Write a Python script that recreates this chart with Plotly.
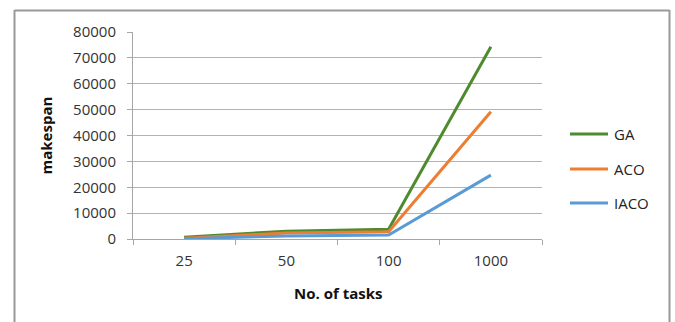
import plotly.graph_objects as go

categories = ["25", "50", "100", "1000"]
ga = [700, 3000, 3800, 74300]
aco = [300, 2300, 2800, 49200]
iaco = [100, 1200, 1500, 24700]
y_ticks = [0, 10000, 20000, 30000, 40000, 50000, 60000, 70000, 80000]
series_names = ["GA", "ACO", "IACO"]
series_colors = ["#4E8A2E", "#ED7D31", "#5B9BD5"]

W, H = 675, 322
L, R, T, B = 133, 542, 32, 239
pw, ph = R - L, B - T

def px(x):
    return (x - L) / pw

def py(y):
    return (B - y) / ph

font_family = "'Open Sans', Lato, sans-serif"

fig = go.Figure()
for name, vals, color in zip(series_names, [ga, aco, iaco], series_colors):
    fig.add_trace(go.Scatter(x=categories, y=vals, mode="lines", name=name,
                             line=dict(color=color, width=3)))

# manual legend (line + label) to match the original's geometry
legend_rows = [134, 169, 203]
shapes = []
annotations = []
for name, color, yy in zip(series_names, series_colors, legend_rows):
    shapes.append(dict(type="line", xref="paper", yref="paper",
                       x0=px(570), x1=px(608), y0=py(yy), y1=py(yy),
                       line=dict(color=color, width=3)))
    annotations.append(dict(text=name, x=px(612), y=py(yy), xref="paper", yref="paper",
                            xanchor="left", yanchor="middle", showarrow=False,
                            font=dict(size=15, color="#222222")))

annotations += [
    dict(text="<b>makespan</b>", x=px(45), y=0.5, xref="paper", yref="paper",
         xanchor="center", yanchor="middle",
         textangle=-90, showarrow=False, font=dict(size=15, color="#111111")),
    dict(text="<b>No. of tasks</b>", x=px(338), y=py(293), xref="paper", yref="paper",
         xanchor="center", yanchor="middle",
         showarrow=False, font=dict(size=15, color="#111111")),
]

border = dict(color="#999999", width=2)
shapes += [
    dict(type="line", xref="paper", yref="paper", x0=px(14.5), x1=px(14.5), y0=py(10), y1=py(340), line=border),
    dict(type="line", xref="paper", yref="paper", x0=px(14.5), x1=px(669.5), y0=py(10.5), y1=py(10.5), line=border),
    dict(type="line", xref="paper", yref="paper", x0=px(669.5), x1=px(669.5), y0=py(10), y1=py(340), line=border),
]

fig.update_layout(
    width=W, height=H,
    margin=dict(l=L, r=W - R, t=T, b=H - B),
    paper_bgcolor="white", plot_bgcolor="white",
    font=dict(family=font_family, size=15, color="#333333"),
    showlegend=False,
    xaxis=dict(type="category", range=[-0.5, 3.5], showgrid=False,
               showline=True, linecolor="#a6a6a6", linewidth=1,
               ticks="outside", tickson="boundaries", ticklen=5, tickcolor="#a6a6a6",
               ticklabelstandoff=8,
               tickfont=dict(size=15, color="#333333"), fixedrange=True),
    yaxis=dict(range=[0, 80000], tickvals=y_ticks, ticktext=[str(v) for v in y_ticks],
               showgrid=True, gridcolor="#b3b3b3", gridwidth=1,
               showline=True, linecolor="#a6a6a6", linewidth=1,
               ticks="outside", ticklen=5, tickcolor="#a6a6a6",
               ticklabelstandoff=8,
               tickfont=dict(size=15, color="#333333"), zeroline=False, fixedrange=True),
    annotations=annotations,
    shapes=shapes,
)

fig.write_html("out.html", config={"displayModeBar": False},
               post_script="document.body.style.margin='0';document.body.style.padding='0';")
